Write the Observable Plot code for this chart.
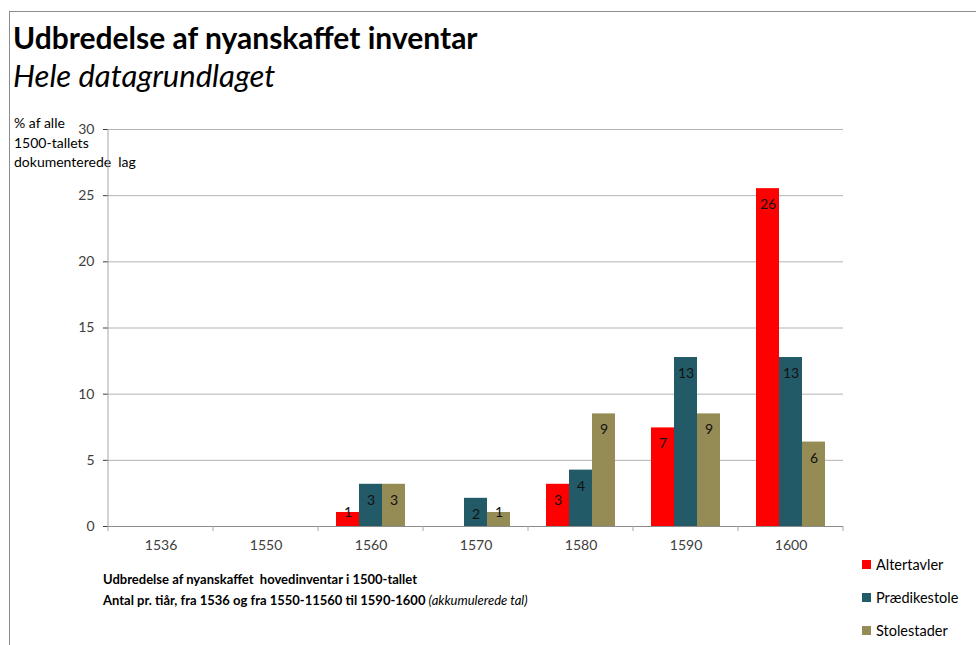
<!DOCTYPE html>
<html>
<head>
<meta charset="utf-8">
<script src="https://cdn.jsdelivr.net/npm/d3@7"></script>
<script src="https://cdn.jsdelivr.net/npm/@observablehq/plot@0.6"></script>
<style>
  body { margin: 0; background: #fff; font-family: Lato, "Open Sans", sans-serif; }
  #wrap { position: relative; width: 976px; height: 645px; overflow: hidden; }
  .abs { position: absolute; white-space: pre; color: #000; }
  #title { left: 13px; top: 19px; font-size: 30px; line-height: 36px; font-weight: bold; }
  #subtitle { left: 13px; top: 57px; font-size: 31px; line-height: 36px; font-style: italic; }
  #ylabel { left: 14px; top: 113px; font-size: 14px; line-height: 19.5px; }
  #caption { left: 103px; top: 569px; font-size: 13px; line-height: 21px; font-weight: bold; }
  #caption i { font-weight: normal; }
  #legend { left: 862px; top: 554px; font-size: 14.5px; }
  .li { display: flex; align-items: center; height: 20px; margin-bottom: 13px; }
  .sw { width: 9px; height: 9px; margin-right: 5px; }
  #chart { position: absolute; left: 0; top: 100px; }
  #borderTop { position: absolute; left: 9px; top: 11px; width: 967px; height: 1px; background: #8c8c8c; }
  #borderLeft { position: absolute; left: 9px; top: 11px; width: 1px; height: 634px; background: #8c8c8c; }
</style>
</head>
<body>
<div id="wrap">
  <div id="borderTop"></div>
  <div id="borderLeft"></div>
  <div id="title" class="abs">Udbredelse af nyanskaffet inventar</div>
  <div id="subtitle" class="abs">Hele datagrundlaget</div>
  <div id="ylabel" class="abs">% af alle
1500-tallets
dokumenterede  lag</div>
  <div id="chart"></div>
  <div id="caption" class="abs">Udbredelse af nyanskaffet  hovedinventar i 1500-tallet
Antal pr. tiår, fra 1536 og fra 1550-11560 til 1590-1600 <i>(akkumulerede tal)</i></div>
  <div id="legend" class="abs"></div>
</div>
<script>
// ---- data ----
const years = ["1536", "1550", "1560", "1570", "1580", "1590", "1600"];
const seriesNames = ["Altertavler", "Prædikestole", "Stolestader"];
const altertavler  = [0, 0, 1.06, 0,    3.19, 7.45, 25.53];
const praedikestole = [0, 0, 3.19, 2.13, 4.26, 12.77, 12.77];
const stolestader  = [0, 0, 3.19, 1.06, 8.51, 8.51, 6.38];
const yTicks = [0, 5, 10, 15, 20, 25, 30];
const colors = ["#ff0000", "#225a68", "#958b55"];

const seriesValues = [altertavler, praedikestole, stolestader];
const rows = [];
years.forEach((yr, i) => {
  seriesNames.forEach((s, j) => {
    rows.push({year: yr, series: s, value: seriesValues[j][i]});
  });
});
const shown = rows.filter(d => d.value > 0);

const chart = Plot.plot({
  width: 870,
  height: 460,
  marginLeft: 105,
  marginRight: 25,
  marginTop: 29,
  marginBottom: 34,
  style: {fontFamily: "Lato, sans-serif", fontSize: "14px", color: "#404040", background: "transparent"},
  fx: {domain: years, paddingInner: 0, paddingOuter: 0, label: null, tickSize: 0, tickPadding: 14},
  x: {domain: seriesNames, paddingInner: 0, paddingOuter: 0.78, axis: null},
  y: {domain: [0, 30], ticks: yTicks, tickSize: 5, tickPadding: 9, label: null},
  color: {domain: seriesNames, range: colors},
  marks: [
    Plot.ruleY(yTicks.filter(t => t > 0), {stroke: "#b3b3b3", strokeWidth: 1}),
    Plot.barY(rows, {fx: "year", x: "series", y: "value", fill: "series"}),
    Plot.text(shown.filter(d => d.value >= 1.5), {fx: "year", x: "series", y: "value", text: d => String(Math.round(d.value)), dy: 16, fill: "#111", fontSize: 14}),
    Plot.text(shown.filter(d => d.value < 1.5), {fx: "year", x: "series", y: "value", text: d => String(Math.round(d.value)), dy: 0, fill: "#111", fontSize: 14}),
    Plot.ruleY([0], {stroke: "#8c8c8c", strokeWidth: 1})
  ]
});

document.getElementById("chart").appendChild(chart);

// axis line and band-boundary ticks, placed via the plot's own scales
const fx = chart.scale("fx");
const ys = chart.scale("y");
const svg = d3.select(chart);
const y0 = ys.apply(0), y30 = ys.apply(30);
const bounds = years.map(y => fx.apply(y)).concat([fx.apply(years[years.length - 1]) + fx.bandwidth]);
svg.append("line").attr("x1", bounds[0]).attr("x2", bounds[0]).attr("y1", y30).attr("y2", y0 + 5)
  .attr("stroke", "#a6a6a6");
svg.selectAll("line.bt").data(bounds.slice(1)).join("line").attr("class", "bt")
  .attr("x1", d => d).attr("x2", d => d).attr("y1", y0).attr("y2", y0 + 5).attr("stroke", "#a6a6a6");

// legend
const legend = document.getElementById("legend");
seriesNames.forEach((s, i) => {
  const li = document.createElement("div");
  li.className = "li";
  const sw = document.createElement("span");
  sw.className = "sw";
  sw.style.background = colors[i];
  const t = document.createElement("span");
  t.textContent = s;
  li.appendChild(sw); li.appendChild(t);
  legend.appendChild(li);
});
</script>
</body>
</html>
